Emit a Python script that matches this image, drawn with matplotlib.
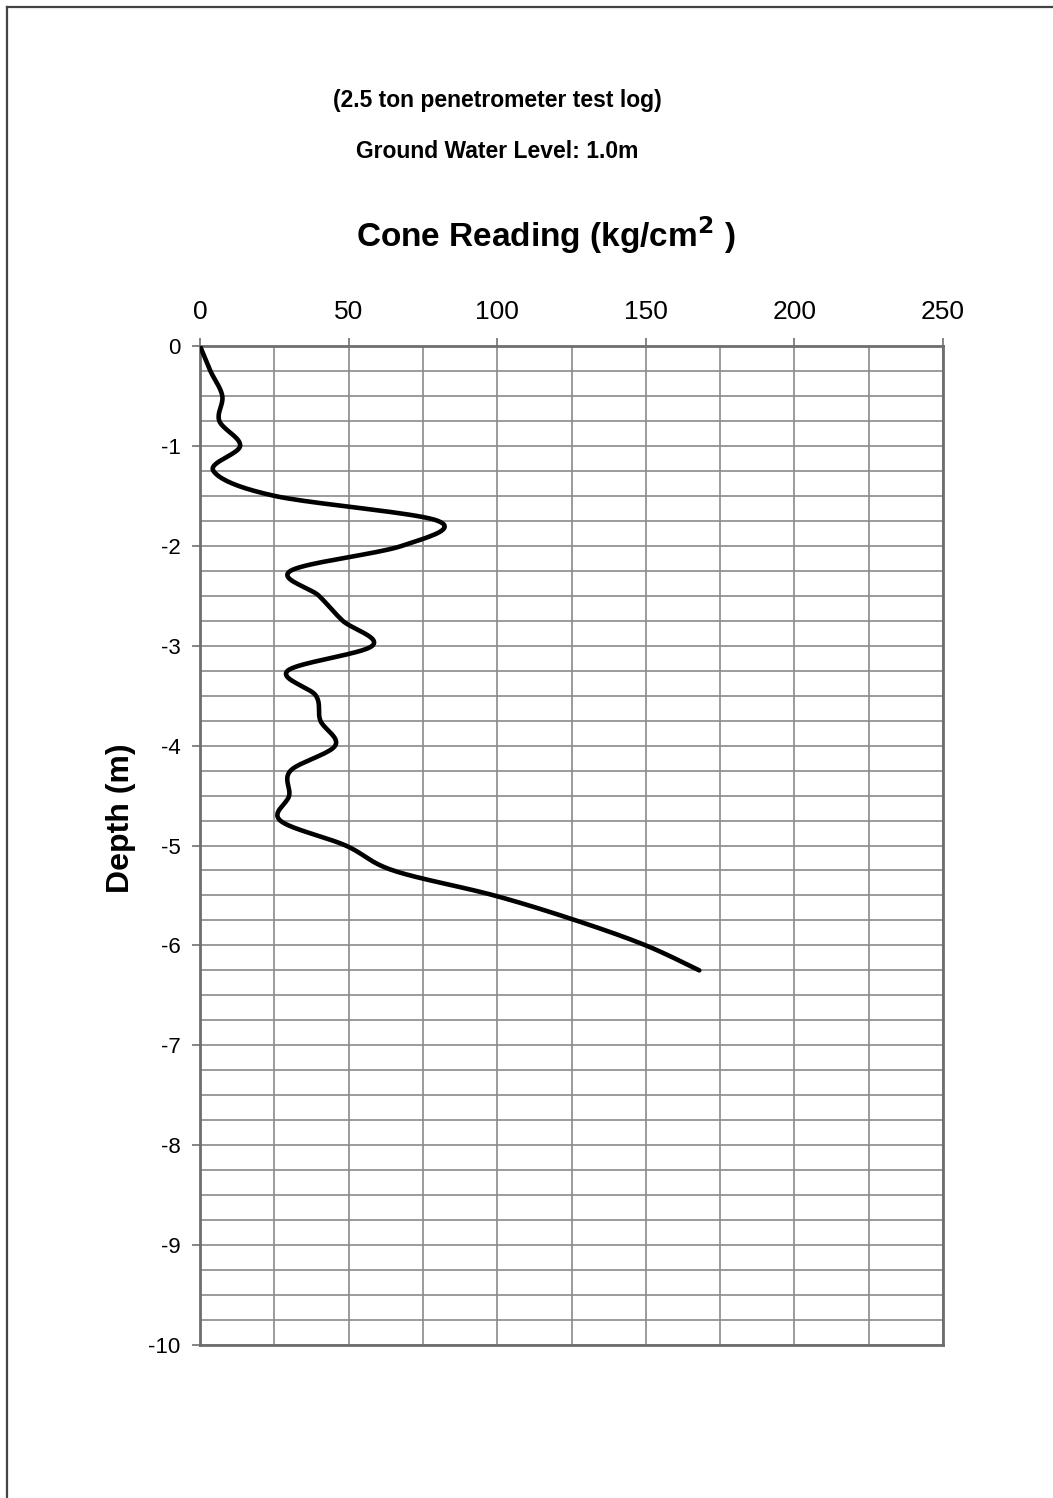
import numpy as np
import matplotlib.pyplot as plt
from matplotlib.lines import Line2D

# cone penetration readings, every 0.25 m
depth = [0, -0.25, -0.5, -0.75, -1.0, -1.25, -1.5, -1.75, -2.0, -2.25, -2.5, -2.75, -3.0,
         -3.25, -3.5, -3.75, -4.0, -4.25, -4.5, -4.75, -5.0, -5.25, -5.5, -5.75, -6.0, -6.25]
cone = [0, 3.5, 7.5, 6.5, 13.5, 4.5, 25, 80, 68, 30.5, 40, 48, 58,
        29.5, 39, 40.5, 45.5, 30.5, 30, 27, 49, 65, 99, 126.5, 150, 168]

x_ticks = [0, 50, 100, 150, 200, 250]
y_ticks = [0, -1, -2, -3, -4, -5, -6, -7, -8, -9, -10]


def smooth(xs, ys, sx=3.0, sy=100.0, n=20):
    # excel-like smoothed line (bezier / catmull-rom) done in screen-ish units
    p = np.column_stack([np.array(xs) * sx, np.array(ys) * sy])
    p = np.vstack([p[0], p, p[-1]])
    out = []
    t = np.linspace(0, 1, n, endpoint=False)[:, None]
    for i in range(1, len(p) - 2):
        p0, p1, p2, p3 = p[i - 1], p[i], p[i + 1], p[i + 2]
        c1 = p1 + (p2 - p0) / 6
        c2 = p2 - (p3 - p1) / 6
        seg = ((1 - t) ** 3) * p1 + 3 * ((1 - t) ** 2) * t * c1 + 3 * (1 - t) * t ** 2 * c2 + t ** 3 * p2
        out.append(seg)
    out.append(p[-2][None, :])
    out = np.vstack(out)
    return out[:, 0] / sx, out[:, 1] / sy


plt.rcParams['font.family'] = ['Liberation Sans', 'DejaVu Sans']
plt.rcParams['axes.unicode_minus'] = False

W, H = 1053, 1498
fig = plt.figure(figsize=(W / 100, H / 100), dpi=100)
ax = fig.add_axes([200 / W, 1 - 1345 / H, 743 / W, 999 / H])

sx, sy = smooth(cone, depth)
ax.plot(sx, sy, color='black', lw=3.3, solid_capstyle='round', zorder=3)

ax.set_xlim(0, 250)
ax.set_ylim(-10, 0)
ax.set_xticks(x_ticks)
ax.set_xticks(np.arange(0, 251, 25), minor=True)
ax.set_yticks(y_ticks)
ax.set_yticks(np.arange(-10, 0.01, 0.25), minor=True)
ax.xaxis.tick_top()
ax.tick_params(axis='x', which='major', labelsize=19, length=6, width=1.2, color='#707070', pad=10)
ax.tick_params(axis='y', which='major', labelsize=16, length=6, width=1.2, color='#707070', pad=8)
ax.tick_params(which='minor', length=0)
ax.grid(which='both', color='#8a8a8a', lw=1.2)
ax.set_axisbelow(True)
for s in ax.spines.values():
    s.set_color('#6e6e6e')
    s.set_linewidth(2)

fig.text(497 / W, 1 - 100 / H, '(2.5 ton penetrometer test log)', ha='center', va='center',
         fontsize=16.5, fontweight='bold')
fig.text(497 / W, 1 - 152 / H, 'Ground Water Level: 1.0m', ha='center', va='center',
         fontsize=16.5, fontweight='bold')
fig.text(546 / W, 1 - 235 / H, 'Cone Reading (kg/cm$^{\\mathbf{2}}$ )', ha='center', va='center',
         fontsize=24, fontweight='bold')
fig.text(121 / W, 1 - 818 / H, 'Depth (m)', ha='center', va='center', rotation=90,
         fontsize=23, fontweight='bold')

# page border on left and top
fig.add_artist(Line2D([7 / W, 7 / W], [0, 1 - 7 / H], color='#444444', lw=1.6))
fig.add_artist(Line2D([7 / W, 1], [1 - 7 / H, 1 - 7 / H], color='#444444', lw=1.6))

fig.savefig('out.png', dpi=100)
